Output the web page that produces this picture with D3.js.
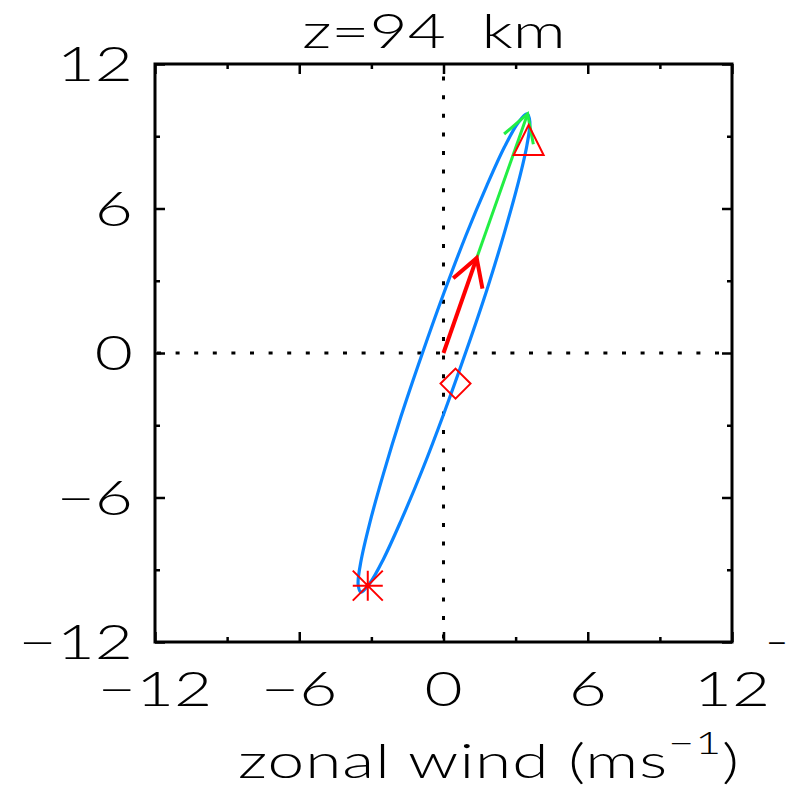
<!DOCTYPE html>
<html>
<head>
<meta charset="utf-8">
<script src="https://cdn.jsdelivr.net/npm/d3@7"></script>
<style>
  body { margin: 0; background: #fff; }
  text { font-family: Lato, "Open Sans", "Liberation Sans", sans-serif; font-weight: 300; fill: #000; }
</style>
</head>
<body>
<svg id="chart" width="790" height="796"></svg>
<script>
// Hodograph of the horizontal wind at one altitude
const titleText = "z=94\u00a0\u00a0km";
const xDomain = [-12, 12];
const yDomain = [-12, 12];
const majorTicks = [-12, -6, 0, 6, 12];
const minorTicks = [-9, -3, 3, 9];

// Closed wind hodograph (zonal u, meridional v), m/s, one point per hour
const hodoU = [3.59, 3.47, 3.11, 2.54, 1.81, 0.94, 0.02, -0.90, -1.77, -2.50, -3.07, -3.43,
               -3.55, -3.43, -3.07, -2.50, -1.77, -0.90, 0.02, 0.94, 1.81, 2.54, 3.11, 3.47];
const hodoV = [9.61, 9.93, 9.57, 8.56, 6.97, 4.90, 2.50, -0.07, -2.64, -5.02, -7.07, -8.63,
               -9.61, -9.93, -9.57, -8.56, -6.97, -4.90, -2.50, 0.07, 2.64, 5.02, 7.07, 8.63];

// Mean wind vector and the vector from it to the peak wind
const meanWind = { u: 1.38, v: 3.94 };
const peakWind = { u: 3.50, v: 9.93 };

// Marked times along the hodograph
const asteriskPt = { u: -3.15, v: -9.66 };
const diamondPt = { u: 0.50, v: -1.27 };
const trianglePt = { u: 3.54, v: 8.84 };

const svg = d3.select("#chart");
const x = d3.scaleLinear().domain(xDomain).range([155, 732]);
const y = d3.scaleLinear().domain(yDomain).range([642, 64]);
const fmt = d3.format("d");

const fontSize = 47;
const stretch = 1.4;

// Horizontally widened text, anchored at (tx, ty)
function label(tx, ty, str, anchor, size = fontSize, sx = stretch) {
  const g = svg.append("g").attr("transform", `translate(${tx},${ty}) scale(${sx},1)`);
  return g.append("text").attr("text-anchor", anchor)
    .style("font-size", size + "px").text(str);
}

// Zero lines (dotted)
svg.append("line")
  .attr("x1", x(0)).attr("x2", x(0)).attr("y1", y(12)).attr("y2", y(-12))
  .attr("stroke", "#000").attr("stroke-width", 3)
  .attr("stroke-dasharray", "4 14.6").attr("stroke-dashoffset", 6);
svg.append("line")
  .attr("x1", x(-12)).attr("x2", x(12)).attr("y1", y(0)).attr("y2", y(0))
  .attr("stroke", "#000").attr("stroke-width", 3)
  .attr("stroke-dasharray", "4 14.6").attr("stroke-dashoffset", -2);

// Tick marks on all four sides, pointing inward
function tickAxis(axisFn, scale, ticks, size, transform) {
  const g = svg.append("g").attr("transform", transform)
    .call(axisFn(scale).tickValues(ticks).tickSize(-size).tickFormat(""));
  g.select(".domain").remove();
  g.selectAll(".tick line").attr("stroke", "#000").attr("stroke-width", 2.5);
}
tickAxis(d3.axisBottom, x, majorTicks, 10, `translate(0,${y(-12)})`);
tickAxis(d3.axisBottom, x, minorTicks, 5, `translate(0,${y(-12)})`);
tickAxis(d3.axisTop, x, majorTicks, 10, `translate(0,${y(12)})`);
tickAxis(d3.axisTop, x, minorTicks, 5, `translate(0,${y(12)})`);
tickAxis(d3.axisLeft, y, majorTicks, 10, `translate(${x(-12)},0)`);
tickAxis(d3.axisLeft, y, minorTicks, 5, `translate(${x(-12)},0)`);
tickAxis(d3.axisRight, y, majorTicks, 10, `translate(${x(12)},0)`);
tickAxis(d3.axisRight, y, minorTicks, 5, `translate(${x(12)},0)`);

// Frame
svg.append("rect")
  .attr("x", x(-12)).attr("y", y(12))
  .attr("width", x(12) - x(-12)).attr("height", y(-12) - y(12))
  .attr("fill", "none").attr("stroke", "#000").attr("stroke-width", 3);

// Tick labels
majorTicks.forEach(d => label(x(d), 706, fmt(d), "middle"));
majorTicks.forEach(d => label(133, y(d) + 17, fmt(d), "end"));
// Clipped label fragment at the right edge
label(766, y(-12) + 17, "\u2212", "start", fontSize, 0.8);

// Title
label(434, 48, titleText, "middle");

// X-axis title with superscript
const xt = label(238, 778, "", "start").style("letter-spacing", "0.7px");
xt.append("tspan").text("zonal wind (ms");
xt.append("tspan").attr("dy", -24).style("font-size", "32px").text("\u22121");
xt.append("tspan").attr("dy", 24).text(")");

// Hodograph curve
const pts = hodoU.map((u, i) => [x(u), y(hodoV[i])]);
svg.append("path")
  .attr("d", d3.line().curve(d3.curveCatmullRomClosed.alpha(0.5))(pts))
  .attr("fill", "none").attr("stroke", "#0a84ff").attr("stroke-width", 3.2);

// Arrow helper
function arrow(u0, v0, u1, v1, color, width) {
  const x0 = x(u0), y0 = y(v0), x1 = x(u1), y1 = y(v1);
  const ang = Math.atan2(y0 - y1, x0 - x1);
  const L = 31, a = Math.PI / 6;
  const g = svg.append("g").attr("stroke", color).attr("stroke-width", width)
    .attr("stroke-linecap", "butt").attr("fill", "none");
  g.append("line").attr("x1", x0).attr("y1", y0).attr("x2", x1).attr("y2", y1);
  g.append("path").attr("d",
    `M${x1 + L * Math.cos(ang + a)},${y1 + L * Math.sin(ang + a)}L${x1},${y1}L${x1 + L * Math.cos(ang - a)},${y1 + L * Math.sin(ang - a)}`);
}
arrow(meanWind.u, meanWind.v, peakWind.u, peakWind.v, "#22ee44", 3);
arrow(0, 0, meanWind.u, meanWind.v, "#ff0000", 4);

// Markers
const r = 15;
const mk = svg.append("g").attr("stroke", "#ff0000").attr("stroke-width", 2).attr("fill", "none");
{
  const cx = x(trianglePt.u), cy = y(trianglePt.v);
  mk.append("path").attr("d", `M${cx - r},${cy + r}L${cx},${cy - r}L${cx + r},${cy + r}Z`);
}
{
  const cx = x(diamondPt.u), cy = y(diamondPt.v);
  mk.append("path").attr("d", `M${cx},${cy - r}L${cx + r},${cy}L${cx},${cy + r}L${cx - r},${cy}Z`);
}
{
  const cx = x(asteriskPt.u), cy = y(asteriskPt.v);
  mk.append("path").attr("d",
    `M${cx - r},${cy - r}L${cx + r},${cy + r}M${cx - r},${cy + r}L${cx + r},${cy - r}M${cx - r},${cy}L${cx + r},${cy}M${cx},${cy - r}L${cx},${cy + r}`);
}
</script>
</body>
</html>
